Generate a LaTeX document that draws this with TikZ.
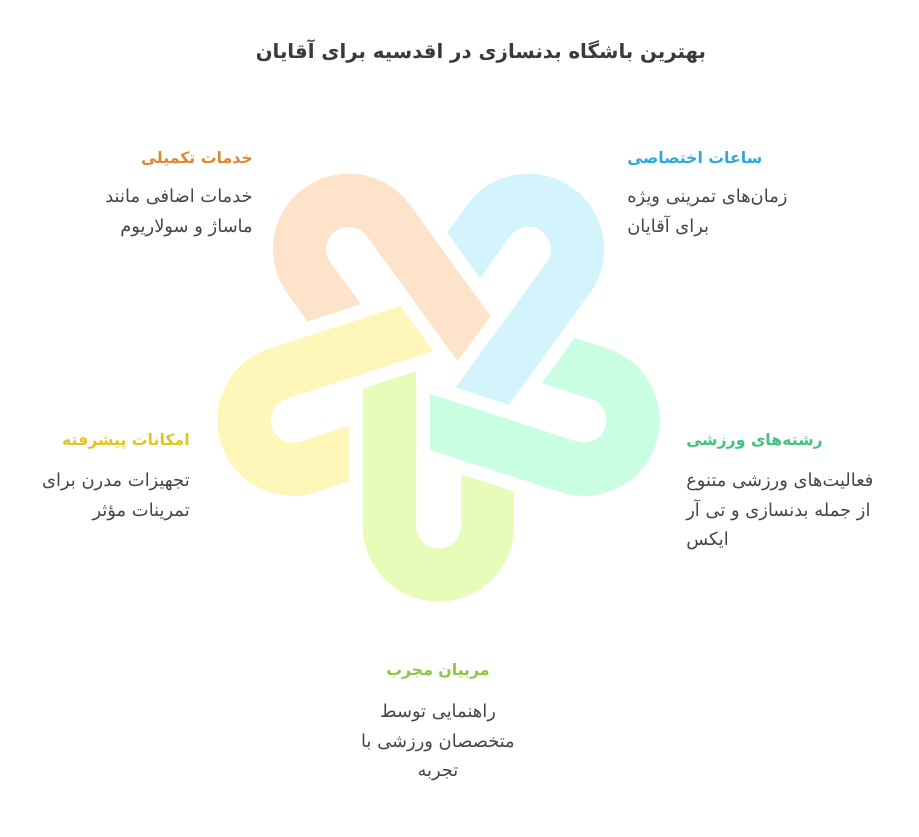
\documentclass[tikz,border=0pt]{standalone}
\usepackage{fontspec}
\newfontfamily\fa[Script=Arabic]{DejaVu Sans}
\TeXXeTstate=1
\definecolor{limeF}{HTML}{E8FCB9}
\definecolor{tealF}{HTML}{C9FEE3}
\definecolor{blueF}{HTML}{D3F3FD}
\definecolor{orangeF}{HTML}{FEE3CB}
\definecolor{yellowF}{HTML}{FFF7BA}
\definecolor{limeT}{HTML}{8DC63F}
\definecolor{tealT}{HTML}{3DC47E}
\definecolor{blueT}{HTML}{2BA9DB}
\definecolor{orangeT}{HTML}{E0872E}
\definecolor{yellowT}{HTML}{E2C51C}
\definecolor{bodyT}{HTML}{454545}
\definecolor{titleT}{HTML}{3A3A3A}
\tikzset{
  head/.style={inner sep=0pt, font=\fa\bfseries\fontsize{11.8}{15}\selectfont},
  body/.style={inner sep=0pt, text=bodyT, font=\fa\fontsize{13.4}{21.9}\selectfont},
}
\newcommand{\ushape}[2]{%
  \begin{scope}[shift={(438.5,373)}, rotate=#1]
    \path[fill=#2] (-22.5,-1.63) -- (-75.5,15.59) -- (-75.5,153)
      arc[start angle=180, end angle=0, radius=75.5]
      -- (75.5,118.64) -- (22.5,101.42) -- (22.5,153)
      arc[start angle=0, end angle=180, radius=22.5] -- cycle;
  \end{scope}}
\begin{document}
\begin{tikzpicture}[x=0.75pt, y=-0.75pt]
\useasboundingbox[fill=white] (0,0) rectangle (919,837);
\ushape{0}{limeF}
\ushape{72}{tealF}
\ushape{144}{blueF}
\ushape{216}{orangeF}
\ushape{288}{yellowF}
% title
\node[inner sep=0pt, text=titleT, font=\fa\bfseries\fontsize{14.8}{18}\selectfont] (title) at (481,51) {\beginR بهترین باشگاه بدنسازی در اقدسیه برای آقایان\endR};
% orange
\node[head, text=orangeT, anchor=east] (h1) at (253,159) {\beginR خدمات تکمیلی\endR};
\node[body, anchor=north east, align=right] (b1) at (253,189) {\beginR خدمات اضافی مانند\endR\\\beginR ماساژ و سولاریوم\endR};
% blue
\node[head, text=blueT, anchor=west] (h2) at (627,159) {\beginR ساعات اختصاصی\endR};
\node[body, anchor=north west, align=left] (b2) at (627,189) {\beginR زمان‌های تمرینی ویژه\endR\\\beginR برای آقایان\endR};
% teal
\node[head, text=tealT, anchor=west] (h3) at (686,441) {\beginR رشته‌های ورزشی\endR};
\node[body, anchor=north west, align=left] (b3) at (686,473) {\beginR فعالیت‌های ورزشی متنوع\endR\\\beginR از جمله بدنسازی و تی آر\endR\\\beginR ایکس\endR};
% yellow
\node[head, text=yellowT, anchor=east] (h4) at (190,441) {\beginR امکانات پیشرفته\endR};
\node[body, anchor=north east, align=right] (b4) at (190,473) {\beginR تجهیزات مدرن برای\endR\\\beginR تمرینات مؤثر\endR};
% lime
\node[head, text=limeT] (h5) at (438,671) {\beginR مربیان مجرب\endR};
\node[body, anchor=north, align=center] (b5) at (438,704) {\beginR راهنمایی توسط\endR\\\beginR متخصصان ورزشی با\endR\\\beginR تجربه\endR};
\end{tikzpicture}
\end{document}
